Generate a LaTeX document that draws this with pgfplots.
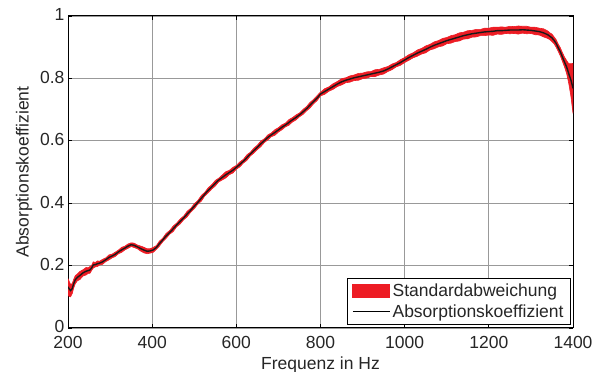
\documentclass[border=0pt]{standalone}
\usepackage{fontspec}
\setmainfont{Liberation Sans}
\usepackage{pgfplots}
\pgfplotsset{compat=1.18}
\usepackage{pgfplotstable}
\usepgfplotslibrary{fillbetween}
\definecolor{stdred}{RGB}{237,28,36}
\pgfplotstableread{
x m s
200 0.132 0.026
203 0.125 0.024
206 0.120 0.020
210 0.126 0.016
213 0.140 0.014
217 0.154 0.013
222 0.162 0.011
228 0.168 0.013
236 0.177 0.010
243 0.182 0.012
248 0.184 0.009
252 0.186 0.011
256 0.192 0.008
260 0.202 0.010
265 0.203 0.007
270 0.206 0.009
275 0.208 0.006
282 0.212 0.008
290 0.219 0.006
297 0.226 0.008
305 0.231 0.006
312 0.236 0.007
320 0.244 0.006
328 0.251 0.008
335 0.256 0.006
342 0.262 0.007
350 0.267 0.006
357 0.265 0.007
365 0.260 0.006
372 0.255 0.008
380 0.250 0.009
388 0.246 0.008
395 0.247 0.007
402 0.250 0.008
410 0.258 0.006
417 0.270 0.008
425 0.282 0.006
433 0.295 0.008
442 0.307 0.006
450 0.318 0.009
458 0.330 0.006
467 0.342 0.008
475 0.353 0.006
483 0.365 0.009
492 0.378 0.006
500 0.390 0.008
508 0.402 0.006
517 0.416 0.009
525 0.429 0.006
533 0.441 0.008
542 0.453 0.007
550 0.464 0.009
558 0.474 0.006
567 0.483 0.008
575 0.491 0.010
583 0.498 0.007
592 0.506 0.009
600 0.515 0.006
608 0.524 0.008
617 0.535 0.006
625 0.546 0.009
633 0.557 0.006
642 0.569 0.008
650 0.579 0.007
658 0.590 0.009
667 0.601 0.006
675 0.611 0.008
683 0.619 0.006
692 0.627 0.009
700 0.635 0.007
708 0.643 0.008
717 0.651 0.006
725 0.659 0.009
733 0.667 0.007
742 0.675 0.008
750 0.683 0.006
758 0.692 0.008
767 0.703 0.007
775 0.714 0.009
783 0.725 0.007
792 0.737 0.008
800 0.750 0.006
810 0.758 0.009
820 0.766 0.007
830 0.774 0.009
840 0.782 0.008
850 0.789 0.010
860 0.794 0.008
870 0.798 0.010
880 0.802 0.009
890 0.805 0.011
900 0.808 0.009
910 0.811 0.010
920 0.814 0.008
930 0.817 0.011
940 0.820 0.009
950 0.824 0.010
960 0.830 0.008
970 0.837 0.009
980 0.844 0.007
990 0.851 0.009
1000 0.859 0.008
1010 0.867 0.009
1020 0.874 0.008
1030 0.881 0.010
1040 0.887 0.009
1050 0.893 0.011
1060 0.900 0.009
1070 0.906 0.011
1080 0.911 0.010
1090 0.916 0.012
1100 0.921 0.010
1110 0.925 0.012
1120 0.929 0.011
1130 0.933 0.013
1140 0.937 0.011
1150 0.940 0.013
1160 0.943 0.011
1170 0.945 0.012
1180 0.947 0.010
1190 0.949 0.012
1200 0.950 0.011
1210 0.951 0.013
1220 0.953 0.011
1230 0.953 0.012
1240 0.954 0.010
1250 0.955 0.012
1260 0.955 0.011
1270 0.955 0.013
1280 0.956 0.011
1290 0.955 0.012
1300 0.954 0.010
1310 0.952 0.012
1320 0.950 0.011
1330 0.946 0.013
1340 0.940 0.012
1345 0.935 0.011
1350 0.930 0.012
1355 0.922 0.011
1360 0.912 0.012
1365 0.898 0.012
1370 0.885 0.013
1375 0.868 0.014
1380 0.852 0.016
1385 0.836 0.021
1390 0.815 0.032
1395 0.795 0.052
1400 0.768 0.080
}\data
\begin{document}
\begin{tikzpicture}
\begin{axis}[
  at={(68bp,44bp)}, anchor=south west,
  scale only axis, width=505bp, height=312bp,
  xmin=200, xmax=1400, ymin=0, ymax=1,
  xtick={200,400,...,1400}, ytick={0,0.2,0.4,0.6,0.8,1},
  scaled ticks=false,
  /pgf/number format/1000 sep={},
  /pgf/number format/assume math mode=true,
  grid=major,
  major grid style={black!40, line width=0.7bp},
  tick align=inside,
  major tick length=4bp,
  tick style={black, line width=0.7bp},
  axis line style={line width=1bp},
  tick label style={font=\fontsize{17.5bp}{21bp}\selectfont, text=black!85},
  xticklabel style={inner ysep=0bp, yshift=-8.3bp},
  yticklabel style={inner ysep=0bp, yshift=1.2bp},
  label style={font=\fontsize{17.5bp}{21bp}\selectfont, text=black!85},
  xlabel={Frequenz in Hz},
  ylabel={Absorptionskoeffizient},
  xlabel style={yshift=-4.3bp},
  ylabel style={yshift=1bp},
  legend style={at={(rel axis cs:0.996,0.01)}, anchor=south east,
    font=\fontsize{17.5bp}{21bp}\selectfont, draw=black, line width=1bp,
    inner xsep=5bp, inner ysep=3.5bp, row sep=3bp,
    nodes={inner sep=2bp}, text=black!85},
  legend cell align=left,
]
\addplot[name path=U, draw=none, forget plot] table[x=x, y expr=\thisrow{m}+\thisrow{s}] {\data};
\addplot[name path=L, draw=none, forget plot] table[x=x, y expr=\thisrow{m}-\thisrow{s}] {\data};
\addplot[fill=stdred, draw=stdred, line width=0.6bp, forget plot] fill between[of=U and L];
\addplot[black!90, line width=1.4bp, forget plot] table[x=x, y=m] {\data};
\addlegendimage{legend image code/.code={\fill[stdred] (0bp,-6.5bp) rectangle (37bp,6.5bp);}}
\addlegendentry{Standardabweichung}
\addlegendimage{legend image code/.code={\draw[black, line width=1.2bp] (0bp,0bp) -- (37bp,0bp);}}
\addlegendentry{Absorptionskoeffizient}
\end{axis}
\pgfresetboundingbox
\path[use as bounding box] (0bp,0bp) rectangle (601bp,372bp);
\end{tikzpicture}
\end{document}
